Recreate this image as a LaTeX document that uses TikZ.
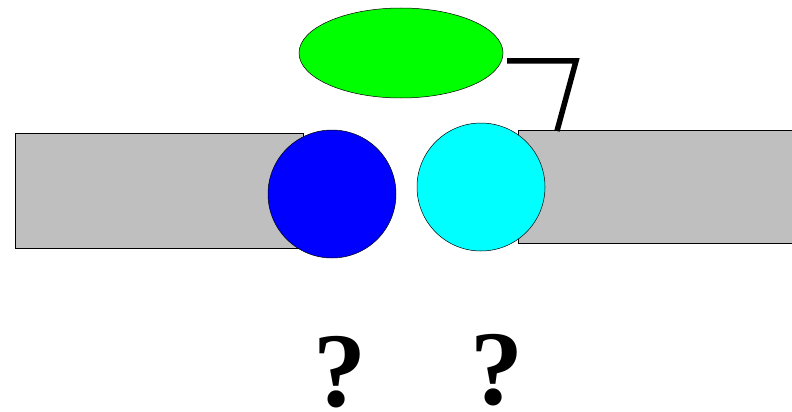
\documentclass[tikz,border=0pt]{standalone}
\usepackage{fontspec}
\setmainfont{Liberation Serif}
\usetikzlibrary{shapes.geometric}
\definecolor{ballcyan}{RGB}{0,255,255}
\definecolor{ballblue}{RGB}{0,0,255}
\definecolor{egggreen}{RGB}{0,255,0}
\begin{document}
\begin{tikzpicture}[x=1pt,y=-1pt,
  bar/.style={draw=black,fill=gray!50,line width=.8pt,inner sep=0pt},
  ball/.style={circle,draw=black,line width=.5pt,minimum size=128pt,inner sep=0pt},
  qmark/.style={anchor=base,inner sep=0pt,text depth=0pt,font=\fontsize{106}{106}\selectfont\bfseries}]
  \useasboundingbox (0,0) rectangle (792,412);
  % two gray bars
  \node[bar,minimum width=288pt,minimum height=115pt] (lbar) at (159,190.5) {};
  \node[bar,minimum width=284pt,minimum height=113pt] (rbar) at (660,186.5) {};
  % balls
  \node[ball,fill=ballblue] (bb) at (332,194) {};
  \node[ball,fill=ballcyan] (cb) at (481,187) {};
  \node[ellipse,draw=black,line width=.5pt,fill=egggreen,minimum width=204pt,minimum height=90pt,inner sep=0pt] (egg) at (401,53) {};
  % hook
  \coordinate (hs) at (507,61);
  \coordinate (hk) at (576,61);
  \coordinate (hf) at (557,131);
  \draw[line width=5.5pt] (hs) -- (hk) -- (hf);
  \node[qmark] (q1) at (340,406) {?};
  \node[qmark] (q2) at (497,404) {?};
\end{tikzpicture}
\end{document}
